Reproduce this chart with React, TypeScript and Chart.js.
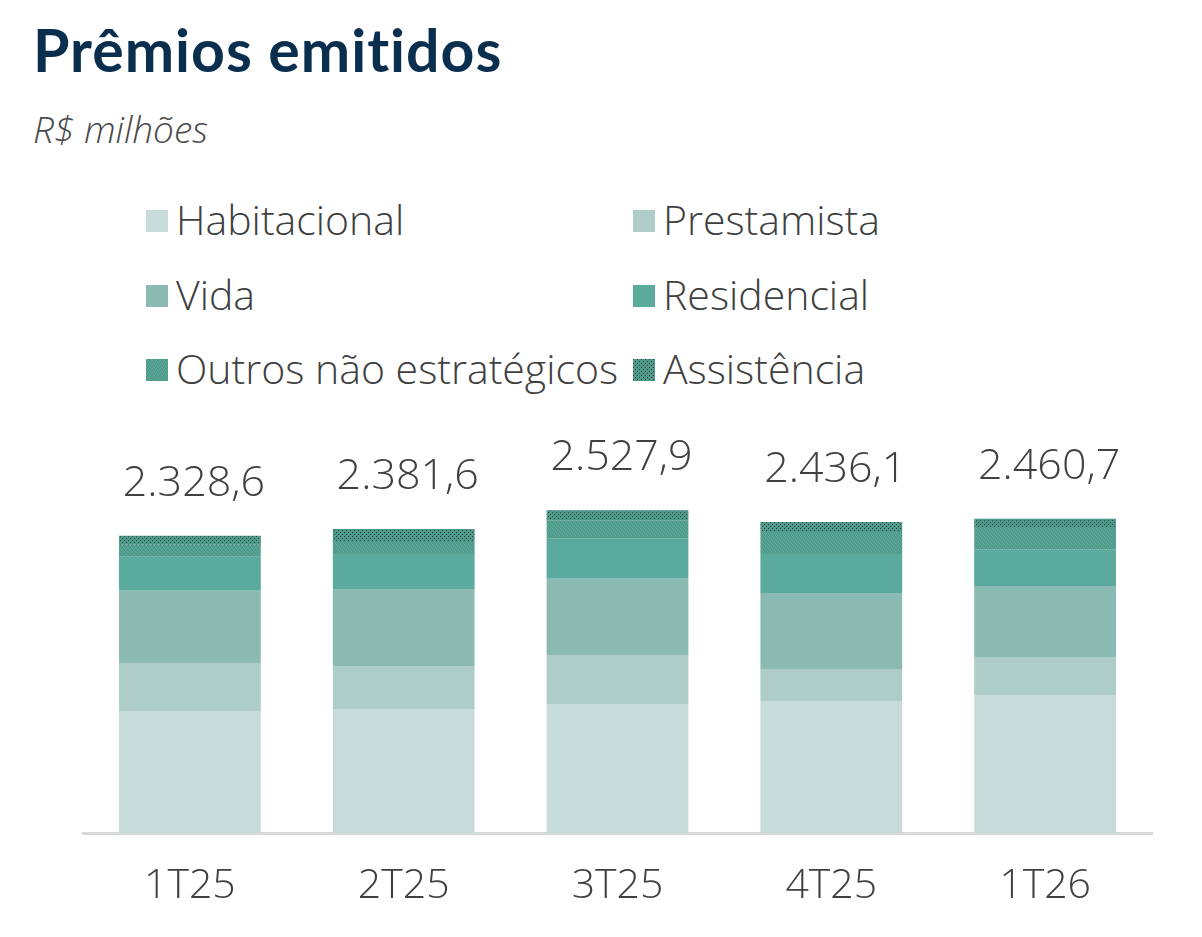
import { useEffect, useRef } from "react";
import Chart from "chart.js/auto";

// R$ milhões
const quarters = ["1T25", "2T25", "3T25", "4T25", "1T26"];
const totals = [2328.6, 2381.6, 2527.9, 2436.1, 2460.7];
const habitacional = [955.6, 970.6, 1010.9, 1033.1, 1080.7];
const prestamista = [376, 337, 384, 251, 298];
const vida = [565, 604, 596, 596, 557];
const residencial = [267, 274, 314, 306, 282];
const outros = [94, 102, 145, 172, 180];
const assistencia = [71, 94, 78, 78, 63];

const FONT = "'Open Sans'";
const TITLE_FONT = "Lato";
const TEXT = "#404040";
const TEAL_DARK = "#4E9A8B";

function makeTile(base: string, dot: string, size: number, dots: number[][]) {
  const c = document.createElement("canvas");
  c.width = size;
  c.height = size;
  const ctx = c.getContext("2d")!;
  ctx.fillStyle = base;
  ctx.fillRect(0, 0, size, size);
  ctx.fillStyle = dot;
  dots.forEach(([x, y]) => ctx.fillRect(x, y, 1, 1));
  return c;
}

const outrosTile = makeTile(TEAL_DARK, "#64AA9D", 4, [[0, 0], [2, 1], [1, 2], [3, 3]]);
const assistTile = makeTile(TEAL_DARK, "#2E3B39", 4, [[0, 0], [2, 2]]);

const series = [
  { label: "Habitacional", data: habitacional, color: "#C7DCDA" },
  { label: "Prestamista", data: prestamista, color: "#AECDC8" },
  { label: "Vida", data: vida, color: "#8BBAB3" },
  { label: "Residencial", data: residencial, color: "#5AAA9D" },
  { label: "Outros não estratégicos", data: outros, tile: outrosTile },
  { label: "Assistência", data: assistencia, tile: assistTile },
];

const fmt = (v: number) =>
  v.toLocaleString("pt-BR", { minimumFractionDigits: 1, maximumFractionDigits: 1 });

// legend in the picture: two columns, three rows (x of box, baseline of text)
const legendCols = [146, 633];
const legendRows = [235, 310, 384];

export default function App() {
  const canvasRef = useRef<HTMLCanvasElement | null>(null);

  useEffect(() => {
    if (!canvasRef.current) return;
    const ctx = canvasRef.current.getContext("2d")!;

    const totalsPlugin = {
      id: "totals",
      afterDatasetsDraw(chart: any) {
        const c = chart.ctx;
        const meta = chart.getDatasetMeta(0);
        const y = chart.scales.y;
        c.save();
        c.font = `300 43px ${FONT}`;
        c.fillStyle = TEXT;
        c.textAlign = "center";
        c.textBaseline = "alphabetic";
        totals.forEach((t, i) => {
          c.fillText(fmt(t), meta.data[i].x + 4, y.getPixelForValue(t) - 40);
        });
        c.restore();
      },
    };

    const chart = new Chart(canvasRef.current, {
      type: "bar",
      data: {
        labels: quarters,
        datasets: series.map((s) => ({
          label: s.label,
          data: s.data,
          backgroundColor: s.tile ? ctx.createPattern(s.tile, "repeat")! : s.color,
          borderWidth: 0,
          categoryPercentage: 1,
          barPercentage: 0.663,
        })),
      },
      options: {
        animation: false,
        responsive: false,
        maintainAspectRatio: false,
        layout: { padding: { left: 83, right: 50, top: 50, bottom: 0 } },
        plugins: {
          legend: { display: false },
          tooltip: { enabled: false },
        },
        scales: {
          x: {
            stacked: true,
            grid: { display: false },
            border: { display: true, color: "#D9D9D9", width: 3 },
            ticks: {
              color: TEXT,
              font: { family: FONT, size: 41, weight: 300 },
              padding: 21,
            },
            afterFit: (s: any) => {
              s.height = 104;
            },
          },
          y: { stacked: true, display: false, min: 0, max: 3000 },
        },
      },
      plugins: [totalsPlugin],
    });

    return () => chart.destroy();
  }, []);

  return (
    <div
      style={{
        position: "absolute",
        left: 0,
        top: 0,
        width: 1202,
        height: 937,
        background: "#fff",
        fontFamily: FONT,
        overflow: "hidden",
      }}
    >
      <div
        style={{
          position: "absolute",
          left: 33,
          top: 20,
          fontFamily: TITLE_FONT,
          fontSize: 59,
          lineHeight: 1,
          fontWeight: 700,
          letterSpacing: 1,
          fontVariantLigatures: "none",
          color: "#0A2E4D",
          whiteSpace: "nowrap",
        }}
      >
        Prêmios emitidos
      </div>
      <div
        style={{
          position: "absolute",
          left: 33,
          top: 110,
          fontSize: 37,
          lineHeight: 1,
          fontStyle: "italic",
          fontWeight: 300,
          color: "#4A4A4A",
          whiteSpace: "nowrap",
        }}
      >
        R$ milhões
      </div>

      {series.map((s, i) => {
        const left = legendCols[i % 2];
        const base = legendRows[Math.floor(i / 2)];
        return (
          <div key={s.label}>
            <div
              style={{
                position: "absolute",
                left,
                top: base - 25,
                width: 22,
                height: 22,
                backgroundColor: s.color,
                backgroundImage: s.tile ? `url(${s.tile.toDataURL()})` : undefined,
                imageRendering: "pixelated",
              }}
            />
            <div
              style={{
                position: "absolute",
                left: left + 30,
                top: base - 36,
                fontSize: 41,
                lineHeight: 1,
                fontWeight: 300,
                color: TEXT,
                whiteSpace: "nowrap",
              }}
            >
              {s.label}
            </div>
          </div>
        );
      })}

      <canvas
        ref={canvasRef}
        width={1202}
        height={537}
        style={{ position: "absolute", left: 0, top: 400, width: 1202, height: 537 }}
      />
    </div>
  );
}
